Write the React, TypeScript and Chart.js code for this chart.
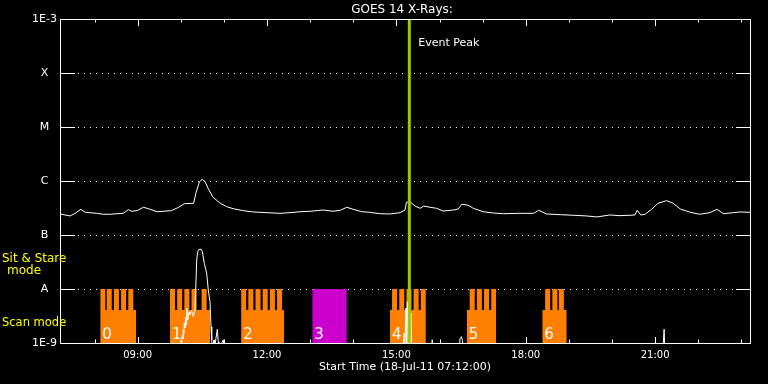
import React, { useEffect, useRef } from 'react';
import { Chart, registerables } from 'chart.js';

Chart.register(...registerables);

const FONT = "'DejaVu Sans', sans-serif";

// ---------- data ----------
const chartTitle = 'GOES 14 X-Rays:';
const xTitle = 'Start Time (18-Jul-11 07:12:00)';
const axisStart = '07:12';
const axisEnd = '23:12';
const hourTicks = ['08:00', '09:00', '10:00', '11:00', '12:00', '13:00', '14:00', '15:00', '16:00', '17:00', '18:00', '19:00', '20:00', '21:00', '22:00', '23:00'];
const labeledTicks = ['09:00', '12:00', '15:00', '18:00', '21:00'];

const yTickValues = [1e-9, 1e-8, 1e-7, 1e-6, 1e-5, 1e-4, 1e-3];
const yTickLabels = ['1E-9', 'A', 'B', 'C', 'M', 'X', '1E-3'];

const peakTime = '15:18';
const peakLabel = 'Event Peak';
const sitStareLabel = ['Sit & Stare', 'mode'];
const scanLabel = 'Scan mode';

// observing blocks
const blockLabels = ['0', '1', '2', '3', '4', '5', '6'];
const blockKind = ['scan', 'scan', 'scan', 'full', 'scan', 'scan', 'scan'];
const blockStart = ['08:08', '09:45', '11:24', '13:03', '14:51', '16:38', '18:23'];
const blockEnd = ['08:58', '10:41', '12:24', '13:51', '15:41', '17:19', '18:57'];
const stareWindows: string[][][] = [
  [['08:08', '08:15'], ['08:17', '08:24'], ['08:27', '08:34'], ['08:37', '08:44'], ['08:47', '08:54']],
  [['09:45', '09:52'], ['09:55', '10:02'], ['10:05', '10:12'], ['10:15', '10:22'], ['10:29', '10:36']],
  [['11:24', '11:31'], ['11:34', '11:41'], ['11:44', '11:51'], ['11:54', '12:01'], ['12:04', '12:11'], ['12:14', '12:21']],
  [['13:03', '13:51']],
  [['14:54', '15:01'], ['15:04', '15:11'], ['15:14', '15:21'], ['15:24', '15:31'], ['15:34', '15:41']],
  [['16:42', '16:49'], ['16:52', '16:59'], ['17:02', '17:09'], ['17:12', '17:19']],
  [['18:27', '18:34'], ['18:37', '18:44'], ['18:46', '18:53']],
];
const scanLevel = 4.1e-9;
const stareLevel = 1e-8;

// GOES long channel (1-8 A), minutes after 00:00
const longTimes = [432, 439, 446, 453, 461, 467, 474, 483, 492, 502, 511, 520, 527, 532, 539, 548, 555, 567, 576, 587, 597, 605, 618, 621, 626, 630, 634, 638, 645, 655, 664, 673, 687, 701, 720, 738, 752, 766, 780, 798, 812, 822, 831, 840, 852, 863, 877, 891, 905, 912, 914, 919, 926, 933, 938, 947, 956, 965, 979, 986, 991, 1000, 1007, 1021, 1035, 1049, 1072, 1091, 1098, 1109, 1128, 1146, 1165, 1179, 1197, 1211, 1225, 1232, 1235, 1240, 1246, 1255, 1264, 1276, 1285, 1295, 1309, 1322, 1336, 1346, 1355, 1369, 1378, 1392];
const longFlux = [2.45e-7, 2.35e-7, 2.25e-7, 2.52e-7, 2.99e-7, 2.63e-7, 2.59e-7, 2.52e-7, 2.42e-7, 2.42e-7, 2.48e-7, 2.52e-7, 2.94e-7, 2.75e-7, 2.82e-7, 3.26e-7, 3.07e-7, 2.70e-7, 2.75e-7, 2.82e-7, 3.26e-7, 3.80e-7, 3.87e-7, 5.92e-7, 9.70e-7, 1.07e-6, 9.70e-7, 7.33e-7, 4.99e-7, 3.87e-7, 3.34e-7, 3.07e-7, 2.82e-7, 2.67e-7, 2.59e-7, 2.52e-7, 2.59e-7, 2.70e-7, 2.75e-7, 2.90e-7, 2.75e-7, 2.87e-7, 3.26e-7, 2.99e-7, 2.70e-7, 2.63e-7, 2.48e-7, 2.45e-7, 2.59e-7, 2.90e-7, 4.03e-7, 4.14e-7, 3.44e-7, 3.12e-7, 3.44e-7, 3.26e-7, 3.12e-7, 2.78e-7, 2.90e-7, 3.03e-7, 3.71e-7, 3.55e-7, 3.12e-7, 2.70e-7, 2.55e-7, 2.48e-7, 2.52e-7, 2.52e-7, 2.87e-7, 2.45e-7, 2.38e-7, 2.32e-7, 2.25e-7, 2.16e-7, 2.35e-7, 2.28e-7, 2.32e-7, 2.35e-7, 2.87e-7, 2.35e-7, 2.42e-7, 2.99e-7, 3.87e-7, 4.32e-7, 3.87e-7, 3.03e-7, 2.63e-7, 2.42e-7, 2.59e-7, 2.99e-7, 2.48e-7, 2.59e-7, 2.67e-7, 2.63e-7];

// GOES short channel (0.5-4 A), minutes after 00:00
const shortTimes = [432, 590, 599, 600.3, 601.2, 602.2, 603, 603.5, 604.2, 604.9, 605.8, 606.9, 607.5, 608.3, 609.7, 611.5, 612.9, 615.2, 617.5, 619.8, 620.8, 622.2, 623.6, 625.4, 628.2, 630, 632.8, 636.1, 638.3, 640.7, 642.1, 643.1, 643.9, 646.3, 647, 650.9, 652.2, 653, 659.2, 660, 908, 910.6, 911.8, 913.4, 914.2, 915.2, 916.6, 919.6, 920, 920.8, 922, 948, 949.9, 951, 987, 988.5, 990.5, 992, 994, 1270, 1272.5, 1274, 1392];
const shortFlux = [5e-10, 5e-10, 9e-10, 1.14e-9, 1.0e-9, 1.41e-9, 1.2e-9, 1.74e-9, 1.5e-9, 2.32e-9, 1.9e-9, 2.99e-9, 2.2e-9, 4.4e-9, 2.67e-9, 3.8e-9, 3.3e-9, 3.96e-9, 3.07e-9, 4.08e-9, 9.57e-9, 3.44e-8, 4.91e-8, 5.43e-8, 5.43e-8, 4.91e-8, 2.99e-8, 1.95e-8, 9.57e-9, 5.82e-9, 2.0e-9, 1.14e-9, 8e-10, 1.14e-9, 8e-10, 1.8e-9, 1.05e-9, 8e-10, 1.14e-9, 5e-10, 5e-10, 1.5e-9, 9e-10, 4.4e-9, 1.0e-9, 5.8e-9, 9e-10, 9e-10, 3.6e-9, 9e-10, 5e-10, 5e-10, 1.15e-9, 5e-10, 5e-10, 1.2e-9, 1.31e-9, 1.1e-9, 5e-10, 5e-10, 1.8e-9, 5e-10, 5e-10];

// ---------- styles ----------
const ORANGE = '#ff8000';
const MAGENTA = '#cc00cc';
const PEAK_GREEN = '#99cc00';
const YELLOW = '#ffff00';
const WHITE = '#ffffff';

const toMin = (s: string) => {
  const [h, m] = s.split(':').map(Number);
  return h * 60 + m;
};

function blockPoints(i: number) {
  const s = toMin(blockStart[i]);
  const e = toMin(blockEnd[i]);
  const pts: { x: number; y: number }[] = [{ x: s, y: scanLevel }];
  for (const [a, b] of stareWindows[i]) {
    const ta = toMin(a);
    const tb = toMin(b);
    pts.push({ x: ta, y: scanLevel }, { x: ta, y: stareLevel }, { x: tb, y: stareLevel }, { x: tb, y: scanLevel });
  }
  pts.push({ x: e, y: scanLevel });
  return pts;
}

const decorPlugin = {
  id: 'decor',
  beforeDraw(chart: any) {
    const { ctx, width, height } = chart;
    ctx.save();
    ctx.fillStyle = '#000';
    ctx.fillRect(0, 0, width, height);
    ctx.restore();
  },
  beforeDatasetsDraw(chart: any) {
    const { ctx, chartArea: ca, scales } = chart;
    const xs = scales.x;
    const ys = scales.y;
    ctx.save();
    ctx.strokeStyle = WHITE;
    ctx.lineWidth = 1;
    yTickValues.forEach((v) => {
      const y = Math.round(ys.getPixelForValue(v)) + 0.5;
      ctx.setLineDash([]);
      ctx.beginPath();
      ctx.moveTo(ca.left, y);
      ctx.lineTo(ca.left + 15, y);
      ctx.moveTo(ca.right - 14, y);
      ctx.lineTo(ca.right, y);
      ctx.stroke();
      if (v > yTickValues[0] && v < yTickValues[yTickValues.length - 1]) {
        ctx.setLineDash([1, 5]);
        ctx.beginPath();
        ctx.moveTo(ca.left + 18, y);
        ctx.lineTo(ca.right - 14, y);
        ctx.stroke();
      }
    });
    ctx.setLineDash([]);
    hourTicks.forEach((t) => {
      const x = Math.round(xs.getPixelForValue(toMin(t))) + 0.5;
      const major = labeledTicks.includes(t);
      ctx.beginPath();
      ctx.moveTo(x, ca.top);
      ctx.lineTo(x, ca.top + (major ? 7 : 3.5));
      ctx.moveTo(x, ca.bottom);
      ctx.lineTo(x, ca.bottom - (major ? 6 : 3.5));
      ctx.stroke();
    });
    ctx.restore();
  },
  afterDatasetsDraw(chart: any) {
    const { ctx, chartArea: ca, scales } = chart;
    const xs = scales.x;
    ctx.save();
    ctx.strokeStyle = WHITE;
    ctx.lineWidth = 1;
    ctx.strokeRect(Math.round(ca.left) + 0.5, Math.round(ca.top) + 0.5, Math.round(ca.right - ca.left), Math.round(ca.bottom - ca.top));
    ctx.fillStyle = WHITE;
    ctx.font = `15px ${FONT}`;
    ctx.textAlign = 'left';
    ctx.textBaseline = 'alphabetic';
    blockLabels.forEach((lab, i) => {
      const x = xs.getPixelForValue(toMin(blockStart[i]));
      ctx.fillText(lab, x + 2, ca.bottom - 4);
    });
    const px = xs.getPixelForValue(toMin(peakTime));
    ctx.fillStyle = PEAK_GREEN;
    ctx.fillRect(px - 1.5, ca.top + 1, 3, ca.bottom - ca.top - 1);
    ctx.fillStyle = WHITE;
    ctx.font = `11px ${FONT}`;
    ctx.textBaseline = 'middle';
    ctx.fillText(peakLabel, px + 9, ca.top + 24);
    ctx.font = `12px ${FONT}`;
    ctx.textAlign = 'center';
    ctx.fillText(chartTitle, (ca.left + ca.right) / 2 - 3, 10);
    ctx.fillStyle = YELLOW;
    ctx.font = `12px ${FONT}`;
    ctx.textAlign = 'left';
    ctx.fillText(sitStareLabel[0], 2, ca.bottom - 84.5);
    ctx.textAlign = 'center';
    ctx.fillText(sitStareLabel[1], 24, ca.bottom - 72.5);
    ctx.textAlign = 'left';
    ctx.font = `11.5px ${FONT}`;
    ctx.fillText(scanLabel, 2, ca.bottom - 19.5);
    ctx.restore();
  },
};

export default function App() {
  const ref = useRef<HTMLCanvasElement | null>(null);
  useEffect(() => {
    document.body.style.margin = '0';
    document.body.style.background = '#000';
    const canvas = ref.current;
    if (!canvas) return;
    const blockSets = blockLabels.map((lab, i) => ({
      type: 'line' as const,
      label: 'Block ' + lab,
      data: blockPoints(i),
      borderWidth: 0,
      borderColor: 'rgba(0,0,0,0)',
      backgroundColor: blockKind[i] === 'full' ? MAGENTA : ORANGE,
      fill: 'start',
      pointRadius: 0,
      tension: 0,
      order: 5,
    }));
    const chart = new Chart(canvas, {
      type: 'line',
      data: {
        datasets: [
          {
            label: '1.0-8.0 A',
            data: longTimes.map((t, i) => ({ x: t, y: longFlux[i] })),
            borderColor: WHITE,
            borderWidth: 1,
            pointRadius: 0,
            tension: 0,
            fill: false,
            order: 1,
          },
          {
            label: '0.5-4.0 A',
            data: shortTimes.map((t, i) => ({ x: t, y: shortFlux[i] })),
            borderColor: WHITE,
            borderWidth: 1,
            pointRadius: 0,
            tension: 0,
            fill: false,
            order: 1,
          },
          ...blockSets,
        ] as any,
      },
      options: {
        animation: false,
        responsive: false,
        maintainAspectRatio: false,
        layout: { padding: { top: 19, right: 18, bottom: 0, left: 0 } },
        plugins: {
          legend: { display: false },
          tooltip: { enabled: false },
          title: { display: false },
        },
        scales: {
          x: {
            type: 'linear',
            min: toMin(axisStart),
            max: toMin(axisEnd),
            grid: { display: false, drawTicks: false },
            border: { display: false },
            afterBuildTicks: (s: any) => {
              s.ticks = hourTicks.map((t) => ({ value: toMin(t) }));
            },
            afterFit: (s: any) => {
              s.height = 41;
            },
            ticks: {
              color: WHITE,
              font: { family: FONT, size: 10 },
              padding: 6,
              maxRotation: 0,
              autoSkip: false,
              callback: (v: any) => {
                const lab = hourTicks.find((t) => toMin(t) === v);
                return lab && labeledTicks.includes(lab) ? lab : '';
              },
            },
            title: {
              display: true,
              text: xTitle,
              color: WHITE,
              font: { family: FONT, size: 11 },
              padding: { top: 0, bottom: 10 },
            },
          },
          y: {
            type: 'logarithmic',
            min: yTickValues[0],
            max: yTickValues[yTickValues.length - 1],
            grid: { display: false, drawTicks: false },
            border: { display: false },
            afterBuildTicks: (s: any) => {
              s.ticks = yTickValues.map((v) => ({ value: v }));
            },
            afterFit: (s: any) => {
              s.width = 60;
            },
            ticks: {
              color: WHITE,
              font: { family: FONT, size: 11 },
              crossAlign: 'center',
              padding: 3,
              autoSkip: false,
              callback: (_v: any, i: number) => yTickLabels[i],
            },
          },
        },
      } as any,
      plugins: [decorPlugin],
    });
    return () => chart.destroy();
  }, []);
  return (
    <div style={{ width: 768, height: 384, background: '#000' }}>
      <canvas ref={ref} width={768} height={384} style={{ display: 'block' }} />
    </div>
  );
}
